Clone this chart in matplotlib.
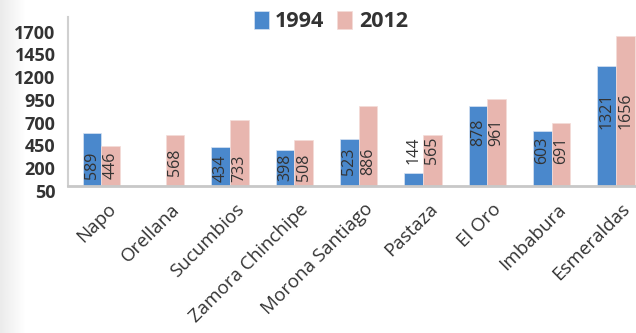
import numpy as np
import matplotlib.pyplot as plt
from matplotlib.transforms import ScaledTranslation

# data
provinces = ['Napo', 'Orellana', 'Sucumbios', 'Zamora Chinchipe', 'Morona Santiago',
             'Pastaza', 'El Oro', 'Imbabura', 'Esmeraldas']
v1994 = [589, np.nan, 434, 398, 523, 144, 878, 603, 1321]
v2012 = [446, 568, 733, 508, 886, 565, 961, 691, 1656]
yticks = [-50, 200, 450, 700, 950, 1200, 1450, 1700]
ytick_labels = ['50', '200', '450', '700', '950', '1200', '1450', '1700']

# where the value labels sit (middle of the text, in axis units), as in the original
label_mid = [225, 264, 193, 204, 275, 396, 589, 396, 826]

blue = '#4A88CC'
pink = '#E8B6AF'
txt = '#333333'

plt.rcParams['font.family'] = ['Open Sans', 'DejaVu Sans']

fig = plt.figure(figsize=(6.36, 3.33), dpi=100)

# light shading on the left edge
bg = fig.add_axes([0.0, 0.0, 0.04, 1.0])
grad = np.linspace(0.92, 1.0, 50).reshape(1, -1)
bg.imshow(grad, aspect='auto', cmap='gray', vmin=0, vmax=1, extent=[0, 1, 0, 1])
bg.axis('off')

ax = fig.add_axes([0.107, 0.427, 0.912, 0.522])

# spines first: moving a spine resets the tick labels
for s in ('top', 'right'):
    ax.spines[s].set_visible(False)
ax.spines['bottom'].set_position(('data', 0))
ax.spines['bottom'].set_color('#C8C8C8')
ax.spines['bottom'].set_linewidth(2)
ax.spines['left'].set_color('#D0D0D0')
ax.spines['left'].set_linewidth(1.5)

x = np.arange(len(provinces))
w = 0.29

b1 = ax.bar(x - w / 2, v1994, w, color=blue, edgecolor='#d8e4f2', linewidth=0.5, label='1994', zorder=2)
b2 = ax.bar(x + w / 2, v2012, w, color=pink, edgecolor='#f4dcd8', linewidth=0.5, label='2012', zorder=2)

for bars, vals in ((b1, v1994), (b2, v2012)):
    for rect, v, ym in zip(bars, vals, label_mid):
        if np.isnan(v):
            continue
        ax.text(rect.get_x() + rect.get_width() / 2, ym, str(v), rotation=90,
                ha='center', va='center', fontsize=11.5, color=txt, zorder=3)

ax.set_xlim(-0.52, 8.5)
ax.set_ylim(-50, 1860)
ax.spines['left'].set_bounds(0, 1860)
ax.set_yticks(yticks)
ax.set_yticklabels(ytick_labels, fontsize=13, fontweight='bold', color=txt)
ax.set_xticks(x)
ax.set_xticklabels(provinces, fontsize=13.5, color=txt, rotation=45, ha='right',
                   va='top', rotation_mode='anchor')
ax.tick_params(axis='both', length=0)
ax.tick_params(axis='y', pad=9)
ax.tick_params(axis='x', pad=10)
shift = ScaledTranslation(5 / 100, 0, fig.dpi_scale_trans)
for lab in ax.get_xticklabels():
    lab.set_transform(lab.get_transform() + shift)

leg = fig.legend(handles=[b1, b2], labels=['1994', '2012'], loc='center',
                 bbox_to_anchor=(0.52, 0.935), ncol=2, frameon=False,
                 handlelength=0.7, handleheight=0.9, handletextpad=0.3, columnspacing=0.6,
                 prop={'size': 15.5, 'weight': 'bold'})
for t in leg.get_texts():
    t.set_color(txt)

fig.savefig('out.png', dpi=100)
